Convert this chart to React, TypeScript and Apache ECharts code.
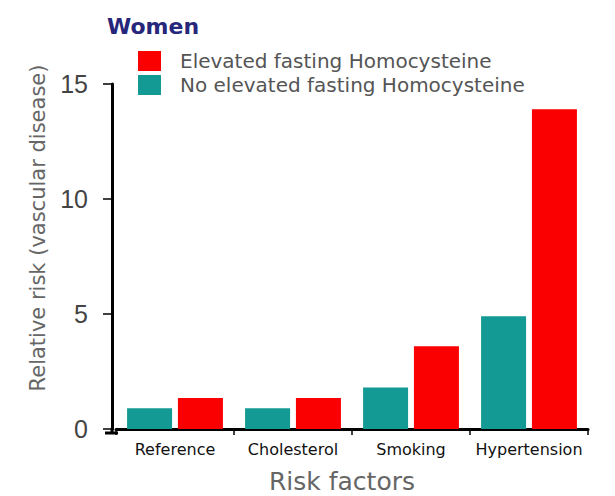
import React, { useEffect, useRef } from "react";
import * as echarts from "echarts";

const categories = ["Reference", "Cholesterol", "Smoking", "Hypertension"];
const noElevated = [0.9, 0.9, 1.8, 4.9];
const elevated = [1.35, 1.35, 3.6, 13.9];
const yTicks = [0, 5, 10, 15];

export default function App() {
  const ref = useRef<HTMLDivElement>(null);
  useEffect(() => {
    const chart = echarts.init(ref.current!, null, { renderer: "svg" });
    const font = "'DejaVu Sans', Verdana, sans-serif";
    chart.setOption({
      animation: false,
      backgroundColor: "#ffffff",
      title: {
        text: "Women",
        left: 102,
        top: 10,
        textStyle: { fontFamily: font, fontSize: 22, fontWeight: "bold", color: "#26267a" },
      },
      legend: {
        orient: "vertical",
        left: 133,
        top: 46,
        itemWidth: 23,
        itemHeight: 20,
        itemGap: 4,
        icon: "rect",
        data: ["Elevated fasting Homocysteine", "No elevated fasting Homocysteine"],
        textStyle: { fontFamily: font, fontSize: 20, color: "#555", padding: [0, 0, 0, 14] },
      },
      grid: { left: 116, right: 27, top: 84, bottom: 67 },
      xAxis: {
        type: "category",
        data: categories,
        offset: 4,
        axisLine: { lineStyle: { color: "#000", width: 3 } },
        axisTick: { show: true, length: 6, lineStyle: { color: "#000", width: 1.5 } },
        axisLabel: { fontFamily: font, fontSize: 16, color: "#111", margin: 8, interval: 0 },
      },
      yAxis: {
        type: "value",
        min: yTicks[0],
        max: yTicks[yTicks.length - 1],
        interval: 5,
        offset: 4,
        splitLine: { show: false },
        axisLine: { show: true, lineStyle: { color: "#000", width: 3 } },
        axisTick: { show: true, length: 9, lineStyle: { color: "#000", width: 1.5 } },
        axisLabel: {
          fontFamily: "'Liberation Sans', Arial, sans-serif",
          fontSize: 25,
          color: "#444",
          margin: 24,
        },
      },
      graphic: [
        {
          type: "line",
          shape: { x1: 105, y1: 433, x2: 118, y2: 433 },
          style: { stroke: "#000", lineWidth: 3 },
        },
        {
          type: "line",
          shape: { x1: 112, y1: 428, x2: 112, y2: 434 },
          style: { stroke: "#000", lineWidth: 3 },
        },
        {
          type: "text",
          x: 38,
          y: 228,
          rotation: Math.PI / 2,
          style: {
            text: "Relative risk (vascular disease)",
            fontFamily: font,
            fontSize: 21,
            fill: "#666",
            textAlign: "center",
            textVerticalAlign: "middle",
          },
        },
        {
          type: "text",
          x: 342,
          y: 481,
          style: {
            text: "Risk factors",
            fontFamily: font,
            fontSize: 25,
            fill: "#666",
            textAlign: "center",
            textVerticalAlign: "middle",
          },
        },
      ],
      series: [
        {
          name: "No elevated fasting Homocysteine",
          type: "bar",
          data: noElevated,
          barWidth: 45,
          barGap: "13%",
          itemStyle: { color: "#139a94" },
        },
        {
          name: "Elevated fasting Homocysteine",
          type: "bar",
          data: elevated,
          barWidth: 45,
          barGap: "13%",
          itemStyle: { color: "#fb0000" },
        },
      ],
    });
    return () => chart.dispose();
  }, []);
  return <div ref={ref} style={{ width: 615, height: 496, position: "absolute", left: 0, top: 0 }} />;
}
